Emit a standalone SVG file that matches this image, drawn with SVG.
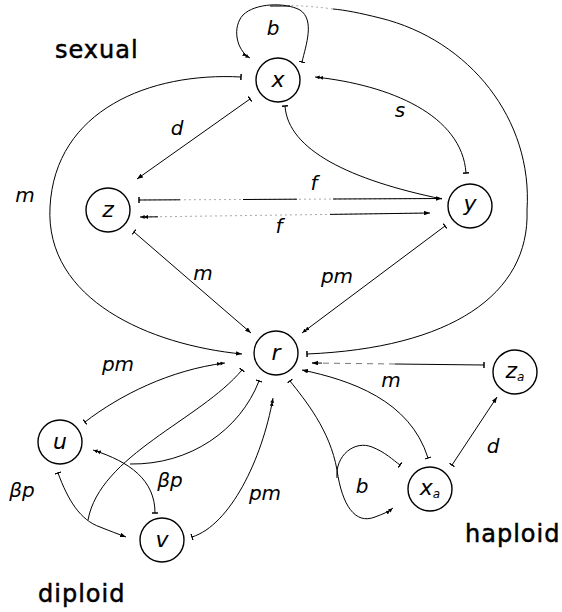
<svg xmlns="http://www.w3.org/2000/svg" width="562" height="612" viewBox="0 0 562 612">
<style>
.node circle{fill:#fff;stroke:#000;stroke-width:1.4}
.nl{font-family:"DejaVu Sans",sans-serif;font-style:italic;font-size:22px;text-anchor:middle;fill:#000}
.el{font-family:"DejaVu Sans",sans-serif;font-style:italic;font-size:20px;text-anchor:middle;fill:#000}
.tl{font-family:"DejaVu Sans",sans-serif;font-size:24px;letter-spacing:1px;fill:#000;stroke:#000;stroke-width:0.5}
.c path,.c line{fill:none;stroke:#000;stroke-width:1}
.c .f{stroke:#aaa;stroke-dasharray:2 3}
</style>
<defs>
<marker id="arr" viewBox="0 0 8 6" refX="8" refY="3" markerWidth="6" markerHeight="4.5" orient="auto" markerUnits="userSpaceOnUse"><path d="M0,0 L8,3 L0,6 z"/></marker>
<marker id="arr2" viewBox="0 0 12 6" refX="12" refY="3" markerWidth="8" markerHeight="4" orient="auto" markerUnits="userSpaceOnUse"><path d="M0,0 L6,3 L0,6 z M5,0 L11,3 L5,6 z"/></marker>
<marker id="tick" viewBox="0 0 2 8" refX="1" refY="4" markerWidth="1.5" markerHeight="6" orient="auto" markerUnits="userSpaceOnUse"><rect width="2" height="8"/></marker>
</defs>
<g class="c" id="connectors">
<path d="M302,62 C306,45 315,20 300,10 C285,2 255,3 243,15 C232,27 236,50 250,58" marker-start="url(#tick)" marker-end="url(#arr2)"/>
<path d="M307,354 C450,348 530,295 527,210 C533,120 470,40 380,18 C360,13 345,10 333,9" marker-start="url(#tick)"/>
<path class="f" d="M333,9 C310,6 295,5 270,6"/>
<path d="M290,6 L270,6"/>
<path d="M241,77 C150,72 55,110 50,207 C45,300 150,345 242,354" marker-start="url(#tick)" marker-end="url(#arr)"/>
<line x1="250" y1="99" x2="137" y2="179" marker-start="url(#tick)" marker-end="url(#arr)"/>
<path d="M466,173 C462,115 390,85 315,77" marker-start="url(#tick)" marker-end="url(#arr2)"/>
<path d="M285,106 C288,150 350,180 442,199" marker-start="url(#tick)"/>
<line class="f" x1="139" y1="200" x2="442" y2="198.5"/>
<line x1="139" y1="200" x2="180" y2="199.8" marker-start="url(#tick)"/>
<line x1="243" y1="199.5" x2="297" y2="199.2"/>
<line x1="333" y1="199" x2="442" y2="198.5" marker-end="url(#arr)"/>
<line class="f" x1="140" y1="217" x2="430" y2="213"/>
<line x1="158" y1="216.8" x2="140" y2="217" marker-end="url(#arr2)"/>
<line x1="330" y1="214.4" x2="430" y2="213" marker-end="url(#arr)"/>
<line x1="134" y1="232" x2="251" y2="333" marker-start="url(#tick)" marker-end="url(#arr)"/>
<line x1="445" y1="226" x2="302" y2="333" marker-start="url(#tick)" marker-end="url(#arr2)"/>
<line class="f" x1="395" y1="364" x2="312" y2="363" style="stroke:#777;stroke-dasharray:6 5"/>
<line x1="484" y1="365" x2="395" y2="364" marker-start="url(#tick)"/>
<line x1="322" y1="363.1" x2="312" y2="363" marker-end="url(#arr)"/>
<path d="M428,458 C410,400 350,380 302,370" marker-start="url(#tick)" marker-end="url(#arr)"/>
<line x1="452" y1="465" x2="497" y2="397" marker-start="url(#tick)" marker-end="url(#arr)"/>
<path d="M290,381 C305,400 330,430 337,470 C342,505 355,525 375,517 C383,514 388,512 393,508" marker-start="url(#tick)" marker-end="url(#arr2)"/>
<path d="M337,478 C335,455 355,440 372,447 C385,452 393,460 400,465" marker-end="url(#tick)"/>
<path d="M192,537 C230,525 262,460 273,398" marker-start="url(#tick)" marker-end="url(#arr2)"/>
<path d="M85,422 C120,395 170,370 225,363" marker-start="url(#tick)" marker-end="url(#arr2)"/>
<path d="M242,370 C200,420 100,455 88,520" marker-start="url(#tick)"/>
<path d="M58,473 C68,500 80,520 100,527 C110,531 118,534 126,537" marker-start="url(#tick)" marker-end="url(#arr)"/>
<path d="M155,513 C155,480 130,462 93,450" marker-start="url(#tick)" marker-end="url(#arr2)"/>
<path d="M259,381 C240,430 190,465 130,464" marker-start="url(#tick)"/>
</g>
<g class="node" id="node-x"><circle cx="278" cy="80" r="22"/><text class="nl" x="278" y="87">x</text></g>
<g class="node" id="node-z"><circle cx="108" cy="210" r="22"/><text class="nl" x="108" y="217">z</text></g>
<g class="node" id="node-y"><circle cx="470" cy="206" r="22"/><text class="nl" x="470" y="211">y</text></g>
<g class="node" id="node-r"><circle cx="276" cy="353" r="22"/><text class="nl" x="276" y="360">r</text></g>
<g class="node" id="node-za"><circle cx="515" cy="372" r="22"/><text class="nl" x="515" y="378">z<tspan font-size="12" dy="3">a</tspan></text></g>
<g class="node" id="node-xa"><circle cx="430" cy="489" r="22"/><text class="nl" x="430" y="495">x<tspan font-size="12" dy="3">a</tspan></text></g>
<g class="node" id="node-u"><circle cx="60" cy="442" r="22"/><text class="nl" x="60" y="449">u</text></g>
<g class="node" id="node-v"><circle cx="162" cy="540" r="22"/><text class="nl" x="162" y="547">v</text></g>
<g id="edge-labels">
<text class="el" x="273" y="35">b</text>
<text class="el" x="177" y="135">d</text>
<text class="el" x="400" y="117">s</text>
<text class="el" x="25" y="202">m</text>
<text class="el" x="314" y="190">f</text>
<text class="el" x="279" y="233">f</text>
<text class="el" x="203" y="280">m</text>
<text class="el" x="337" y="283">pm</text>
<text class="el" x="118" y="371">pm</text>
<text class="el" x="391" y="387">m</text>
<text class="el" x="493" y="453">d</text>
<text class="el" x="362" y="493">b</text>
<text class="el" x="22" y="497">βp</text>
<text class="el" x="170" y="487">βp</text>
<text class="el" x="265" y="500">pm</text>
</g>
<g id="titles">
<text class="tl" x="55" y="58">sexual</text>
<text class="tl" x="465" y="542">haploid</text>
<text class="tl" x="38" y="602">diploid</text>
</g>
</svg>
